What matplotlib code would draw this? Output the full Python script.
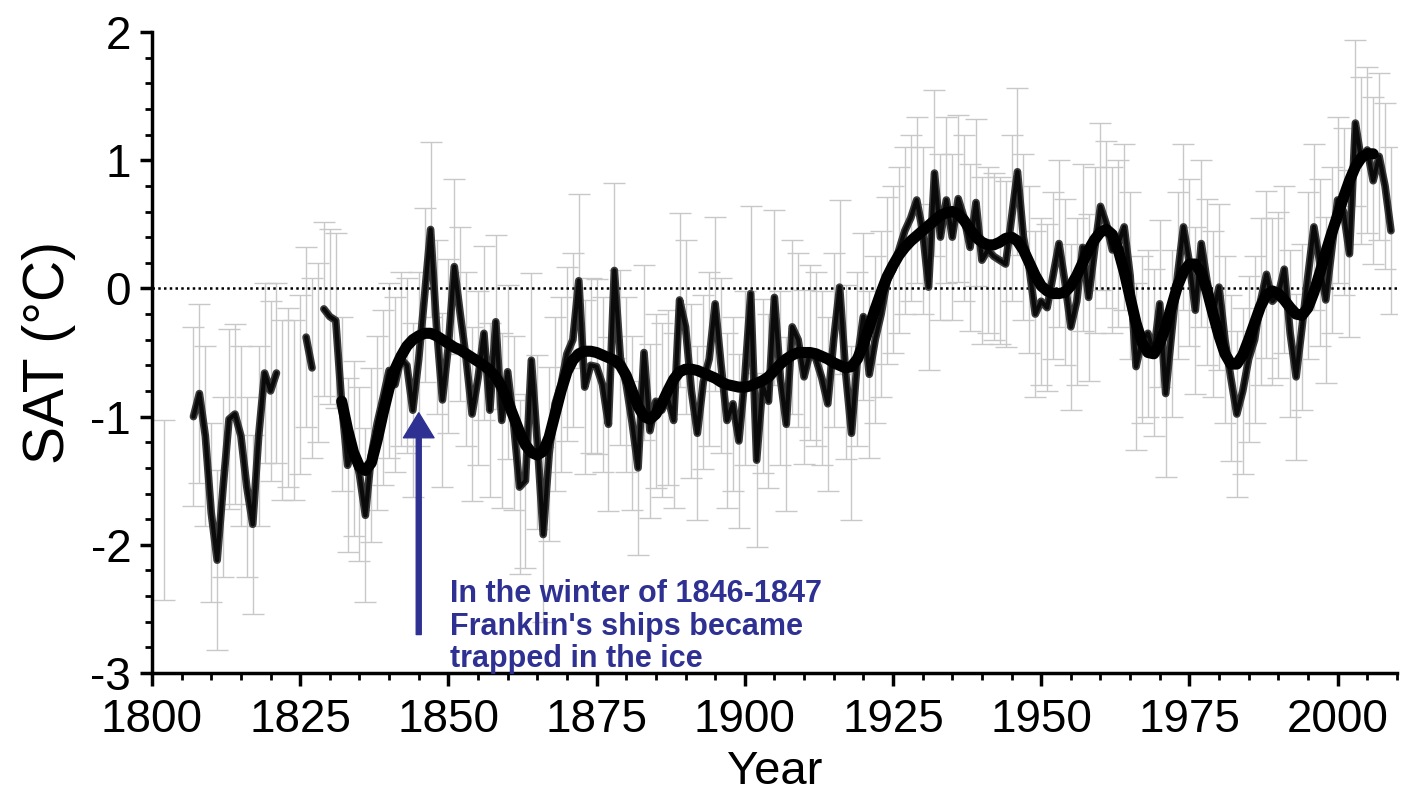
import numpy as np
import matplotlib
matplotlib.use("Agg")
import matplotlib.pyplot as plt
from matplotlib.ticker import MultipleLocator

# ---------------- data ----------------
years_a1 = list(range(1807, 1822))
sat_a1 = [-1.00, -0.82, -1.15, -1.75, -2.12, -1.55, -1.02, -0.98, -1.15, -1.55,
          -1.84, -1.15, -0.66, -0.80, -0.66]

years_a2 = [1826, 1827]
sat_a2 = [-0.38, -0.62]

years_a3 = list(range(1829, 2010))
sat_a3 = [
    -0.16, -0.22, -0.25, -0.90, -1.38, -1.25, -1.45, -1.77, -1.30, -1.05,   # 1829-1838
    -0.85, -0.64, -0.75, -0.55, -0.60, -0.95, -0.55, -0.05, 0.46, -0.30,    # 1839-1848
    -0.87, -0.45, 0.17, -0.20, -0.55, -0.98, -0.70, -0.35, -0.95, -0.26,    # 1849-1858
    -1.03, -0.65, -1.05, -1.55, -1.50, -0.56, -1.20, -1.92, -1.29, -0.90,   # 1859-1868
    -0.75, -0.51, -0.40, 0.06, -0.77, -0.60, -0.61, -0.75, -1.06, 0.14,     # 1869-1878
    -0.54, -0.75, -1.05, -1.40, -0.50, -1.11, -0.88, -0.95, -0.85, -1.03,   # 1879-1888
    -0.09, -0.30, -0.80, -1.13, -0.73, -0.55, -0.12, -0.60, -1.03, -0.90,   # 1889-1898
    -1.19, -0.70, -0.04, -1.34, -0.76, -0.88, -0.07, -0.70, -1.06, -0.30,   # 1899-1908
    -0.40, -0.69, -0.50, -0.55, -0.70, -0.90, -0.40, 0.01, -0.65, -1.13,    # 1909-1918
    -0.55, -0.22, -0.67, -0.40, -0.20, 0.06, 0.15, 0.30, 0.45, 0.55,        # 1919-1928
    0.69, 0.45, 0.01, 0.90, 0.40, 0.69, 0.40, 0.70, 0.55, 0.32,             # 1929-1938
    0.67, 0.22, 0.30, 0.25, 0.22, 0.19, 0.55, 0.91, 0.40, 0.15,             # 1939-1948
    -0.20, -0.10, -0.15, 0.10, 0.35, 0.05, -0.30, -0.10, 0.32, -0.07,       # 1949-1958
    0.30, 0.64, 0.50, 0.30, 0.35, 0.48, 0.10, -0.61, -0.40, -0.35,          # 1959-1968
    -0.50, -0.12, -0.82, -0.35, 0.10, 0.48, 0.20, -0.17, 0.35, 0.05,        # 1969-1978
    -0.20, 0.01, -0.40, -0.70, -0.98, -0.80, -0.55, -0.40, -0.10, 0.11,     # 1979-1988
    -0.10, -0.05, 0.15, -0.35, -0.69, -0.30, 0.10, 0.48, 0.20, -0.09,       # 1989-1998
    0.30, 0.69, 0.60, 0.27, 1.29, 1.00, 1.08, 0.84, 1.03, 0.80,             # 1999-2008
    0.45,                                                                     # 2009
]

years_s = list(range(1832, 2007))
sat_s = [
    -0.88, -1.10, -1.28, -1.39, -1.42, -1.36, -1.18, -0.97, -0.78, -0.63,   # 1832-1841
    -0.53, -0.45, -0.40, -0.37, -0.35, -0.35, -0.37, -0.40, -0.43, -0.46,   # 1842-1851
    -0.48, -0.51, -0.54, -0.57, -0.60, -0.64, -0.69, -0.77, -0.88, -1.00,   # 1852-1861
    -1.12, -1.22, -1.28, -1.30, -1.27, -1.16, -0.98, -0.80, -0.65, -0.56,   # 1862-1871
    -0.51, -0.49, -0.49, -0.50, -0.52, -0.54, -0.56, -0.60, -0.68, -0.80,   # 1872-1881
    -0.92, -1.00, -1.02, -0.98, -0.90, -0.80, -0.71, -0.65, -0.63, -0.63,   # 1882-1891
    -0.64, -0.66, -0.68, -0.70, -0.73, -0.75, -0.76, -0.77, -0.77, -0.76,   # 1892-1901
    -0.74, -0.72, -0.69, -0.64, -0.59, -0.55, -0.52, -0.50, -0.50, -0.50,   # 1902-1911
    -0.51, -0.53, -0.55, -0.58, -0.60, -0.62, -0.61, -0.55, -0.44, -0.30,   # 1912-1921
    -0.16, -0.03, 0.09, 0.18, 0.26, 0.32, 0.37, 0.41, 0.45, 0.49,           # 1922-1931
    0.53, 0.57, 0.59, 0.60, 0.58, 0.53, 0.46, 0.40, 0.36, 0.34,             # 1932-1941
    0.34, 0.36, 0.39, 0.40, 0.37, 0.30, 0.20, 0.10, 0.02, -0.02,            # 1942-1951
    -0.04, -0.04, -0.03, 0.02, 0.10, 0.20, 0.30, 0.38, 0.44, 0.46,          # 1952-1961
    0.42, 0.30, 0.13, -0.07, -0.27, -0.42, -0.50, -0.51, -0.43, -0.30,      # 1962-1971
    -0.14, 0.02, 0.13, 0.19, 0.19, 0.12, -0.02, -0.20, -0.37, -0.51,        # 1972-1981
    -0.59, -0.59, -0.52, -0.40, -0.27, -0.14, -0.05, -0.02, -0.04, -0.09,   # 1982-1991
    -0.15, -0.20, -0.21, -0.15, -0.03, 0.12, 0.28, 0.43, 0.57, 0.71,        # 1992-2001
    0.84, 0.95, 1.02, 1.05, 1.05,                                           # 2002-2006
]

years_eb_extra = [1802, 1822, 1823, 1824, 1825, 1828]
sat_eb_extra = [-1.73, -0.95, -0.85, -0.95, -0.75, -0.50]

err_early = 0.70
err_mid = 0.68
err_late = 0.65

annotation_text = "In the winter of 1846-1847\nFranklin's ships became\ntrapped in the ice"
arrow_year = 1845
arrow_tip = -0.97
arrow_tail = -2.70

xticks = [1800, 1825, 1850, 1875, 1900, 1925, 1950, 1975, 2000]
yticks = [-3, -2, -1, 0, 1, 2]

# ---------------- figure ----------------
plt.rcParams['font.family'] = ['Liberation Sans', 'DejaVu Sans']
plt.rcParams['axes.unicode_minus'] = False

fig = plt.figure(figsize=(14.11, 8.01), dpi=100)
ax = fig.add_axes([0.1077, 0.1598, 0.8823, 0.8002])

eb_color = '#c8c8c8'
all_eb_years = years_eb_extra + years_a1 + years_a2 + years_a3
all_eb_vals = sat_eb_extra + sat_a1 + sat_a2 + sat_a3
all_eb_err = ([err_early] * len(years_eb_extra) + [err_early] * len(years_a1)
              + [err_early] * len(years_a2)
              + [err_mid if y < 1920 else err_late for y in years_a3])
ax.errorbar(all_eb_years, all_eb_vals, yerr=all_eb_err, fmt='none',
            ecolor=eb_color, elinewidth=1.0, capsize=8, capthick=1.0, zorder=1)

ax.axhline(0, color='black', lw=1.8, ls=(0, (1.0, 1.3)), zorder=2)

for yy, vv in [(years_a1, sat_a1), (years_a2, sat_a2), (years_a3, sat_a3)]:
    ax.plot(yy, vv, color='#3a3a3a', lw=5.5, solid_joinstyle='round',
            solid_capstyle='round', zorder=3)
    ax.plot(yy, vv, color='#0a0a0a', lw=3.0, solid_joinstyle='round',
            solid_capstyle='round', zorder=4)

ax.plot(years_s, sat_s, color='black', lw=8, solid_capstyle='round', zorder=5)

blue = '#2e3192'
ax.annotate('', xy=(arrow_year, arrow_tip), xytext=(arrow_year, arrow_tail),
            arrowprops=dict(facecolor=blue, edgecolor=blue, width=3.6,
                            headwidth=22, headlength=18, shrink=0),
            zorder=6)
ax.text(1850.3, -2.27, annotation_text, color=blue, fontsize=22,
        fontweight='bold', va='top', ha='left', linespacing=1.1, zorder=7)

ax.set_xlim(1800, 2010)
ax.set_ylim(-3, 2)
ax.set_xticks(xticks)
ax.set_yticks(yticks)
ax.xaxis.set_minor_locator(MultipleLocator(5))
ax.yaxis.set_minor_locator(MultipleLocator(0.2))
for s in ['top', 'right']:
    ax.spines[s].set_visible(False)
for s in ['left', 'bottom']:
    ax.spines[s].set_linewidth(2.5)
ax.tick_params(which='major', direction='out', length=9, width=2.5,
               labelsize=33)
ax.tick_params(axis='x', which='major', pad=9)
ax.tick_params(axis='y', which='major', pad=6)
ax.tick_params(which='minor', direction='out', length=5, width=2)
ax.set_xlabel('Year', fontsize=34, labelpad=6)
ax.set_ylabel('SAT (°C)', fontsize=41, labelpad=10)

fig.savefig('out.png', dpi=100)
